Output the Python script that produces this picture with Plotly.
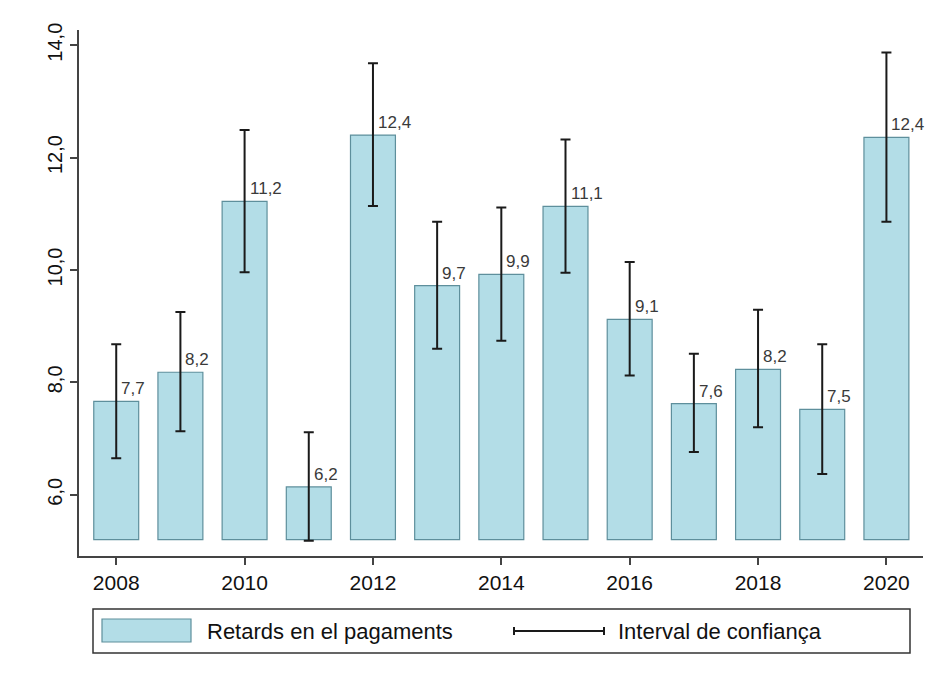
import plotly.graph_objects as go

# ---- data ----
years = [2008, 2009, 2010, 2011, 2012, 2013, 2014, 2015, 2016, 2017, 2018, 2019, 2020]
values = [7.66, 8.18, 11.22, 6.14, 12.40, 9.72, 9.92, 11.13, 9.12, 7.62, 8.23, 7.52, 12.36]
labels = ["7,7", "8,2", "11,2", "6,2", "12,4", "9,7", "9,9", "11,1", "9,1", "7,6", "8,2", "7,5", "12,4"]
ci_upper = [8.68, 9.25, 12.49, 7.11, 13.68, 10.86, 11.11, 12.32, 10.14, 8.51, 9.29, 8.68, 13.87]
ci_lower = [6.65, 7.13, 9.96, 5.18, 11.14, 8.60, 8.74, 9.95, 8.12, 6.76, 7.20, 6.37, 10.86]
bar_base = 5.2
series_name = "Retards en el pagaments"
ci_name = "Interval de confiança"
y_ticks = [6, 8, 10, 12, 14]
y_tick_text = ["6,0", "8,0", "10,0", "12,0", "14,0"]
x_ticks = [2008, 2010, 2012, 2014, 2016, 2018, 2020]

# ---- layout geometry (page pixels; the page body has an 8px margin) ----
OFF = 8
W, H = 936 - 2 * OFF, 677 - 2 * OFF
# plot area in page pixels: x 79..923, y 30..556
L, T = 79 - OFF, 30 - OFF
R = (W + OFF) - 923
B = (H + OFF) - 556
pw, ph = W - L - R, H - T - B

def px(x):
    return (x - OFF - L) / pw

def py(y):
    return (H - B - (y - OFF)) / ph

FONT = "Liberation Sans, Arial, sans-serif"
BAR_FILL = "#b3dde7"
BAR_LINE = "#5e8f9c"
INK = "#1a1a1a"

fig = go.Figure()

fig.add_trace(go.Bar(
    x=years,
    y=[v - bar_base for v in values],
    base=bar_base,
    width=0.7,
    marker=dict(color=BAR_FILL, line=dict(color=BAR_LINE, width=1.2)),
    name=series_name,
    showlegend=False,
    hoverinfo="skip",
))

fig.add_trace(go.Scatter(
    x=years,
    y=values,
    mode="markers",
    marker=dict(size=1, opacity=0),
    error_y=dict(
        type="data",
        symmetric=False,
        array=[u - v for u, v in zip(ci_upper, values)],
        arrayminus=[v - l for v, l in zip(values, ci_lower)],
        color=INK,
        thickness=2,
        width=5,
    ),
    name=ci_name,
    showlegend=False,
    hoverinfo="skip",
))

annotations = []
for x, v, t in zip(years, values, labels):
    annotations.append(dict(
        x=x, y=v, xref="x", yref="y", text=t, showarrow=False,
        xanchor="left", yanchor="bottom", xshift=3, yshift=1,
        font=dict(family=FONT, size=17, color="#3a3a3a"),
    ))

# legend (drawn manually to mimic the reference)
shapes = [
    dict(type="rect", xref="paper", yref="paper",
         x0=px(93), x1=px(910), y0=py(609), y1=py(653),
         line=dict(color="#333333", width=1.5), fillcolor="white"),
    dict(type="rect", xref="paper", yref="paper",
         x0=px(102), x1=px(191), y0=py(619), y1=py(642),
         line=dict(color=BAR_LINE, width=1.2), fillcolor=BAR_FILL),
    dict(type="line", xref="paper", yref="paper",
         x0=px(514), x1=px(604), y0=py(631), y1=py(631),
         line=dict(color=INK, width=2)),
    dict(type="line", xref="paper", yref="paper",
         x0=px(514), x1=px(514), y0=py(627), y1=py(635),
         line=dict(color=INK, width=2)),
    dict(type="line", xref="paper", yref="paper",
         x0=px(604), x1=px(604), y0=py(627), y1=py(635),
         line=dict(color=INK, width=2)),
]
annotations.append(dict(
    x=px(205), y=py(631), xref="paper", yref="paper", text=series_name,
    showarrow=False, xanchor="left", yanchor="middle",
    font=dict(family=FONT, size=22, color="#111111"),
))
annotations.append(dict(
    x=px(616), y=py(631), xref="paper", yref="paper", text=ci_name,
    showarrow=False, xanchor="left", yanchor="middle",
    font=dict(family=FONT, size=22, color="#111111"),
))

fig.update_layout(
    width=W, height=H,
    margin=dict(l=L, r=R, t=T, b=B, pad=0),
    paper_bgcolor="white",
    plot_bgcolor="white",
    showlegend=False,
    annotations=annotations,
    shapes=shapes,
    bargap=0.3,
)

fig.update_xaxes(
    range=[2007.42, 2020.57],
    tickvals=x_ticks,
    ticktext=[str(t) for t in x_ticks],
    ticks="outside", ticklen=7, tickwidth=1.5, tickcolor="#444444",
    showline=True, linecolor="#444444", linewidth=1.5,
    showgrid=False, zeroline=False,
    tickfont=dict(family=FONT, size=21, color="#111111"),
)
fig.update_yaxes(
    range=[4.91, 14.27],
    tickvals=y_ticks,
    ticktext=y_tick_text,
    tickangle=-90,
    ticks="outside", ticklen=7, tickwidth=1.5, tickcolor="#444444",
    showline=True, linecolor="#444444", linewidth=1.5,
    showgrid=False, zeroline=False,
    tickfont=dict(family=FONT, size=20, color="#111111"),
)

fig.write_html("out.html")
